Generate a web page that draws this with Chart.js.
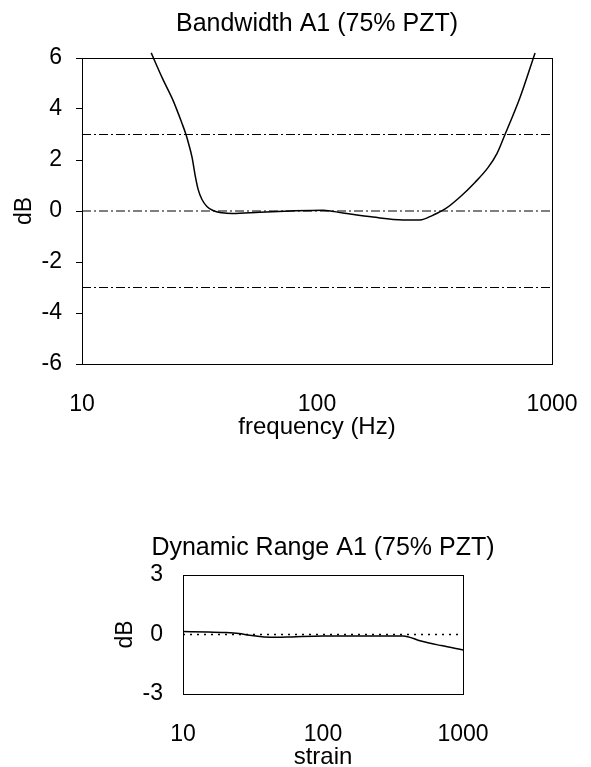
<!DOCTYPE html>
<html>
<head>
<meta charset="utf-8">
<script src="https://cdn.jsdelivr.net/npm/chart.js@4/dist/chart.umd.min.js"></script>
<style>
html, body { margin: 0; padding: 0; background: #fff; overflow: hidden; }
#wrap { position: relative; width: 591px; height: 767px; }
canvas { position: absolute; left: 0; }
#bandwidthChart { top: 0; }
#rangeChart { top: 500px; }
</style>
</head>
<body>
<div id="wrap">
<canvas id="bandwidthChart" width="591" height="460"></canvas>
<canvas id="rangeChart" width="591" height="280"></canvas>
</div>
<script>
// Bandwidth data (frequency in Hz, gain in dB)
const bwFreq = [19.7, 22, 24.5, 26.6, 27.7, 28.5, 29.4, 30.3, 31.2, 32.4, 34.0, 36.1, 39.4, 43.5, 57, 77, 106, 129, 173, 232, 274, 312, 351, 406, 470, 534, 583, 631, 731, 847];
const bwGain = [6.2, 5.2, 4.3, 3.45, 3.0, 2.6, 2.1, 1.4, 0.85, 0.45, 0.18, 0.02, -0.07, -0.1, -0.05, 0.0, 0.03, -0.08, -0.24, -0.35, -0.35, -0.16, 0.08, 0.55, 1.12, 1.7, 2.25, 3.0, 4.45, 6.2];
const bwRefLevels = [3, 0, -3];
const bwYTicks = [-6, -4, -2, 0, 2, 4, 6];

// Dynamic range data (strain, gain in dB)
const drStrain = [10, 15, 20, 25, 30, 38, 47, 60, 100, 200, 373, 500, 700, 1000];
const drGain = [0.15, 0.13, 0.1, 0.05, -0.04, -0.12, -0.14, -0.12, -0.08, -0.07, -0.07, -0.33, -0.56, -0.78];
const drRefLevel = 0;
const drYTicks = [-3, 0, 3];

// Shared x tick labels (log axes)
const xTicks = [10, 100, 1000];

const fontFamily = '"Liberation Sans", Arial, Helvetica, sans-serif';
Chart.defaults.font.family = fontFamily;
Chart.defaults.color = '#000';

// Draws the full box round the plot area
const frameBox = {
  id: 'frameBox',
  beforeDatasetsDraw(chart) {
    const { ctx, chartArea: a } = chart;
    ctx.save();
    ctx.strokeStyle = '#000';
    ctx.lineWidth = 1;
    ctx.strokeRect(Math.round(a.left) + 0.5, Math.round(a.top) + 0.5,
      Math.round(a.right - a.left), Math.round(a.bottom - a.top));
    ctx.restore();
  }
};

// Title centred over the plot area (may be wider than the plot)
const plotTitle = {
  id: 'plotTitle',
  afterDraw(chart, args, opts) {
    const { ctx, chartArea: a } = chart;
    ctx.save();
    ctx.font = opts.size + 'px ' + fontFamily;
    ctx.fillStyle = '#000';
    ctx.textAlign = 'center';
    ctx.textBaseline = 'middle';
    ctx.fillText(opts.text, (a.left + a.right) / 2, opts.y);
    ctx.restore();
  }
};

function toPoints(xs, ys) {
  return xs.map((x, i) => ({ x: x, y: ys[i] }));
}

function refLine(level, dash, width) {
  return {
    data: [{ x: xTicks[0], y: level }, { x: xTicks[xTicks.length - 1], y: level }],
    borderColor: '#000',
    borderWidth: width,
    borderDash: dash,
    pointRadius: 0
  };
}

function makeChart(id, cfg) {
  const ctx = document.getElementById(id).getContext('2d');
  return new Chart(ctx, {
    type: 'line',
    data: {
      datasets: [
        {
          data: toPoints(cfg.xs, cfg.ys),
          borderColor: '#000',
          borderWidth: 1.5,
          pointRadius: 0,
          cubicInterpolationMode: 'monotone',
          clip: false
        },
        ...cfg.refs
      ]
    },
    options: {
      responsive: false,
      animation: false,
      layout: { padding: cfg.padding },
      plugins: {
        legend: { display: false },
        tooltip: { enabled: false },
        plotTitle: { text: cfg.title, y: cfg.titleY, size: 25 }
      },
      scales: {
        x: {
          type: 'logarithmic',
          min: 10,
          max: 1000,
          border: { display: false },
          grid: { display: false, drawTicks: false },
          afterBuildTicks: (axis) => { axis.ticks = xTicks.map(v => ({ value: v })); },
          afterFit: (axis) => { axis.height = cfg.xHeight; axis.paddingLeft = 0; axis.paddingRight = 0; },
          ticks: {
            autoSkip: false,
            maxRotation: 0,
            padding: 27,
            font: { size: 23 },
            callback: (v) => String(v)
          },
          title: {
            display: true,
            text: cfg.xTitle,
            font: { size: 24 },
            padding: { top: 0, bottom: cfg.xTitleBottom }
          }
        },
        y: {
          min: cfg.yTicks[0],
          max: cfg.yTicks[cfg.yTicks.length - 1],
          border: { display: false },
          grid: {
            drawOnChartArea: false,
            drawTicks: cfg.yTickMarks,
            tickLength: 6,
            tickColor: '#000',
            color: '#000'
          },
          afterBuildTicks: (axis) => { axis.ticks = cfg.yTicks.map(v => ({ value: v })); },
          afterFit: (axis) => { axis.width = cfg.yWidth; },
          ticks: {
            padding: cfg.yTickPad,
            font: { size: 23 }
          },
          title: {
            display: true,
            text: 'dB',
            font: { size: 23 },
            padding: { top: cfg.yTitleTop, bottom: 0 }
          }
        }
      }
    },
    plugins: [frameBox, plotTitle]
  });
}

// Initialize Charts
makeChart('bandwidthChart', {
  xs: bwFreq,
  ys: bwGain,
  refs: bwRefLevels.map(l => refLine(l, [9, 3, 2, 3], 1)),
  title: 'Bandwidth A1 (75% PZT)',
  titleY: 24,
  padding: { left: 0, right: 39, top: 58, bottom: 0 },
  xTitle: 'frequency (Hz)',
  xHeight: 96,
  xTitleBottom: 18,
  yTicks: bwYTicks,
  yTickMarks: true,
  yWidth: 82,
  yTickPad: 14,
  yTitleTop: 11
});

makeChart('rangeChart', {
  xs: drStrain,
  ys: drGain,
  refs: [refLine(drRefLevel, [2, 5], 1.5)],
  title: 'Dynamic Range A1 (75% PZT)',
  titleY: 48,
  padding: { left: 0, right: 128, top: 75, bottom: 0 },
  xTitle: 'strain',
  xHeight: 86,
  xTitleBottom: 8,
  yTicks: drYTicks,
  yTickMarks: false,
  yWidth: 183,
  yTickPad: 20,
  yTitleTop: 112
});
</script>
</body>
</html>
